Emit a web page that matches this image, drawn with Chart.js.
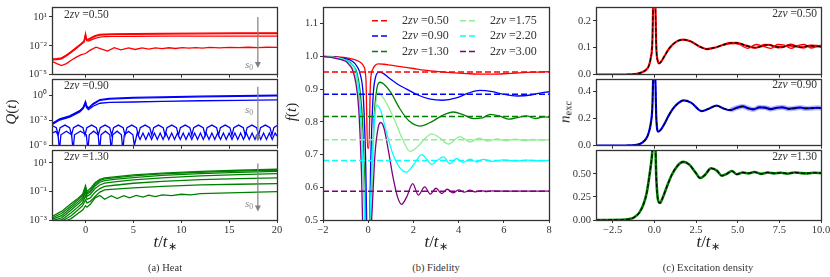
<!DOCTYPE html>
<html>
<head>
<meta charset="utf-8">
<script src="https://cdn.jsdelivr.net/npm/chart.js@4.4.1/dist/chart.umd.min.js"></script>
<style>
  html, body { margin:0; padding:0; background:#fff; }
  body { position:relative; width:830px; height:277px; overflow:hidden;
         font-family:"Liberation Serif","Times New Roman",serif; color:#222; }
  canvas { position:absolute; }
  .txt { position:absolute; white-space:nowrap; }
  .note { font-size:11.5px; line-height:14px; color:#333; }
  .s0 { font-size:11px; line-height:13px; color:#888; }
  .s0 sub, .ylab sub { font-size:70%; vertical-align:-2px; line-height:0; }
  .xlab sub { font-size:65%; vertical-align:-3px; line-height:0; }
  .ylab { font-size:15px; transform:translate(-50%,-50%) rotate(-90deg); }
  .xlab { font-size:17px; transform:translate(-50%,-50%); }
  .cap { font-size:10.5px; transform:translate(-50%,-50%); color:#333; }
</style>
</head>
<body>
<canvas id="heat1"></canvas>
<canvas id="heat2"></canvas>
<canvas id="heat3"></canvas>
<canvas id="fid"></canvas>
<canvas id="exc1"></canvas>
<canvas id="exc2"></canvas>
<canvas id="exc3"></canvas>

<div class="txt note" style="left:64px;top:7px">2<i>zν</i> =0.50</div>
<div class="txt note" style="left:64px;top:78px">2<i>zν</i> =0.90</div>
<div class="txt note" style="left:64px;top:149px">2<i>zν</i> =1.30</div>
<div class="txt note" style="right:13px;top:6px">2<i>zν</i> =0.50</div>
<div class="txt note" style="right:13px;top:77px">2<i>zν</i> =0.90</div>
<div class="txt note" style="right:13px;top:149px">2<i>zν</i> =1.30</div>
<div class="txt s0" style="left:245px;top:58px"><i>s</i><sub>0</sub></div>
<div class="txt s0" style="left:245px;top:103px"><i>s</i><sub>0</sub></div>
<div class="txt s0" style="left:245px;top:197px"><i>s</i><sub>0</sub></div>

<div class="txt ylab" style="left:11px;top:112px"><i>Q</i>(<i>t</i>)</div>
<div class="txt ylab" style="left:291px;top:112px"><i>f</i>(<i>t</i>)</div>
<div class="txt ylab" style="left:565px;top:112px"><i>n</i><sub>exc</sub></div>
<div class="txt xlab" style="left:165px;top:242px"><i>t</i>/<i>t</i><sub>∗</sub></div>
<div class="txt xlab" style="left:436px;top:242px"><i>t</i>/<i>t</i><sub>∗</sub></div>
<div class="txt xlab" style="left:708px;top:242px"><i>t</i>/<i>t</i><sub>∗</sub></div>
<div class="txt cap" style="left:165px;top:267px">(a) Heat</div>
<div class="txt cap" style="left:436px;top:267px">(b) Fidelity</div>
<div class="txt cap" style="left:708px;top:267px">(c) Excitation density</div>

<script>
// ---------- (a) heat, values are log10 Q ----------
const heatT1 = [-3.5,-3,-2.5,-2,-1.5,-1,-0.5,-0.15,0,0.1,0.3,0.6,1,1.5,2,3,5,8,12,16,20];
const heatRedA = [-3.35,-3.33,-3.25,-2.95,-2.6,-2.2,-1.8,-1.5,-0.75,-1.3,-1.3,-1.15,-0.95,-0.82,-0.78,-0.75,-0.73,-0.71,-0.69,-0.67,-0.65];
const heatRedB = [-3.4,-3.38,-3.3,-3.0,-2.65,-2.25,-1.85,-1.55,-0.85,-1.35,-1.38,-1.22,-1.02,-0.9,-0.85,-0.82,-0.8,-0.78,-0.76,-0.74,-0.72];
const heatRedC = [-3.45,-3.42,-3.35,-3.05,-2.7,-2.3,-1.9,-1.62,-1.0,-1.45,-1.5,-1.38,-1.22,-1.1,-1.05,-1.02,-1.01,-1.0,-1.0,-0.99,-0.99];
const heatRedLowT = [-3.5,-3,-2.5,-2,-1.5,-1,-0.5,0,0.5,1.1,1.7,2.3,3.0,3.7,4.5,5.2,5.9,6.6,7.3,8.0,8.7,9.4,10.1,10.8,11.5,12.2,13,14,15,16,17,18,19,20];
const heatRedLow = [-3.6,-3.85,-4.05,-3.85,-3.5,-3.2,-2.95,-2.8,-2.45,-2.15,-2.35,-2.55,-2.2,-2.42,-2.22,-2.38,-2.22,-2.34,-2.21,-2.3,-2.2,-2.28,-2.19,-2.25,-2.18,-2.23,-2.17,-2.21,-2.16,-2.19,-2.15,-2.18,-2.15,-2.16];

const heatT2 = [-3.5,-2.7,-1.65,-0.6,-0.25,0,0.1,0.3,0.8,1.5,2.5,5,8,12,16,20];
const heatBlueA = [-3.36,-2.8,-2.45,-1.83,-1.46,-0.73,-1.2,-1.5,-0.99,-0.51,-0.37,-0.26,-0.18,-0.1,-0.04,0.0];
const heatBlueB = [-3.42,-2.86,-2.5,-1.9,-1.52,-0.85,-1.3,-1.58,-1.08,-0.6,-0.46,-0.35,-0.27,-0.19,-0.13,-0.08];
const heatBlueC = [-3.5,-2.95,-2.6,-2.0,-1.6,-1.0,-1.45,-1.7,-1.3,-0.95,-0.85,-0.8,-0.72,-0.65,-0.6,-0.55];
const heatBlueOscT1 = [-3.5,-3.05,
  -2.85,-2.65,-2.15,-1.66, -1.46,-1.26,-0.76,-0.27, -0.06,0.14,0.64,1.13, 1.34,1.54,2.04,2.53,
  2.73,2.93,3.43,3.93, 4.13,4.33,4.83,5.32, 5.52,5.72,6.22,6.71, 6.92,7.12,7.62,8.11,
  8.31,8.51,9.01,9.5, 9.71,9.91,10.41,10.9, 11.1,11.3,11.8,12.29, 12.5,12.7,13.2,13.69,
  13.89,14.09,14.59,15.08, 15.29,15.49,15.99,16.48, 16.68,16.88,17.38,17.87, 18.08,18.28,18.78,19.27,
  19.47,19.67,20];
const heatBlueOsc1 = [-3.6,-3.85,
  -4.75,-3.85,-3.55,-3.85, -4.75,-3.85,-3.55,-3.85, -4.75,-3.85,-3.55,-3.85, -4.75,-3.85,-3.55,-3.85,
  -4.75,-3.85,-3.55,-3.85, -4.75,-3.85,-3.55,-3.85, -4.75,-3.85,-3.55,-3.85, -4.75,-3.85,-3.55,-3.85,
  -4.75,-3.85,-3.55,-3.85, -4.75,-3.85,-3.55,-3.85, -4.75,-3.85,-3.55,-3.85, -4.75,-3.85,-3.55,-3.85,
  -4.75,-3.85,-3.55,-3.85, -4.75,-3.85,-3.55,-3.85, -4.75,-3.85,-3.55,-3.85, -4.75,-3.85,-3.55,-3.85,
  -4.75,-3.85,-3.6];
const heatBlueOscT2 = [-3.5,-3.1,-2.87,
  -2.72,-2.57,-2.0,-1.45, -1.3,-1.15,-0.53,0.09, 0.24,0.39,0.85,1.32,
  1.47,1.62,2.08,2.54, 2.69,2.84,3.3,3.75, 3.9,4.05,4.5,4.95, 5.1,
  5.4,5.7,6.0,6.3,6.6,6.9,7.2,7.5,7.8,8.1, 8.4,8.7,9.0,9.3,9.6,9.9,10.2,10.5,10.8,11.1,
  11.4,11.7,12.0,12.3,12.6,12.9,13.2,13.5,13.8,14.1, 14.4,14.7,15.0,15.3,15.6,15.9,16.2,16.5,16.8,17.1,
  17.4,17.7,18.0,18.3,18.6,18.9,19.2,19.5,19.8,20];
const heatBlueOsc2 = [-4.5,-4.3,-4.7,
  -6.6,-4.7,-4.27,-4.7, -6.6,-4.7,-4.27,-4.7, -6.6,-4.7,-4.27,-4.7,
  -6.6,-4.7,-4.27,-4.7, -6.6,-4.7,-4.27,-4.7, -6.6,-4.7,-4.3,-4.7, -6.0,
  -4.5,-5.25,-4.5,-5.25,-4.5,-5.25,-4.5,-5.25,-4.5,-5.25, -4.5,-5.25,-4.5,-5.25,-4.5,-5.25,-4.5,-5.25,-4.5,-5.25,
  -4.5,-5.25,-4.5,-5.25,-4.5,-5.25,-4.5,-5.25,-4.5,-5.25, -4.5,-5.25,-4.5,-5.25,-4.5,-5.25,-4.5,-5.25,-4.5,-5.25,
  -4.5,-5.25,-4.5,-5.25,-4.5,-5.25,-4.5,-5.25,-4.5,-4.85];

const heatT3 = [-3.5,-2.5,-1.5,-0.8,-0.3,0,0.15,0.5,1,1.5,2,3,5,8,12,16,20];
const heatGreen1 = [-2.75,-2.4,-1.85,-1.5,-1.2,-0.6,-1.0,-0.8,-0.4,-0.15,-0.05,0.02,0.15,0.28,0.4,0.48,0.55];
const heatGreen2 = [-2.85,-2.55,-2.0,-1.6,-1.3,-0.75,-1.1,-0.95,-0.5,-0.25,-0.12,-0.05,0.08,0.22,0.34,0.42,0.48];
const heatGreen3 = [-2.95,-2.7,-2.15,-1.75,-1.45,-0.9,-1.2,-1.05,-0.62,-0.36,-0.24,-0.16,-0.03,0.12,0.25,0.33,0.40];
const heatGreen4 = [-3.05,-2.85,-2.3,-1.9,-1.6,-1.05,-1.35,-1.2,-0.8,-0.55,-0.42,-0.34,-0.2,-0.05,0.08,0.17,0.25];
const heatGreen5 = [-3.1,-3.0,-2.5,-2.1,-1.8,-1.3,-1.55,-1.45,-1.05,-0.8,-0.65,-0.57,-0.43,-0.3,-0.18,-0.1,-0.05];
const heatGreen6 = [-3.2,-3.1,-2.7,-2.3,-2.0,-1.6,-1.8,-1.7,-1.35,-1.05,-0.9,-0.84,-0.75,-0.65,-0.55,-0.5,-0.46];
const heatGreenLowT = [-3.5,-2.5,-1.5,-0.8,-0.3,0,0.15,0.5,1.0,1.5,2.0,2.7,3.3,4.0,4.6,5.3,6.0,6.6,7.3,8.0,9,10,11,12,14,16,18,20];
const heatGreenLow = [-3.3,-3.2,-2.9,-2.55,-2.3,-2.0,-2.1,-1.9,-1.45,-1.28,-1.55,-1.3,-1.5,-1.3,-1.45,-1.28,-1.4,-1.26,-1.36,-1.24,-1.3,-1.2,-1.24,-1.15,-1.12,-1.08,-1.05,-1.02];

// s0 arrows (log10 ends)
const arrowX = 18;
const arrowTop = [1.0, 1.0, 0.95];
const arrowBottom = [-4.3, -5.5, -2.4];

// ---------- (b) fidelity ----------
const nuLabels = ['0.50','0.90','1.30','1.75','2.20','3.00'];
const fidColors = ['#ff0000','#0000ff','#008000','#90ee90','#00ffff','#800080'];
const fidLevels = [0.952, 0.884, 0.816, 0.745, 0.682, 0.588];
const fidRedT = [-2,-1.5,-1,-0.6,-0.35,-0.2,-0.1,-0.03,0.03,0.1,0.2,0.3,0.45,0.7,1,1.5,2,2.5,3,3.5,4,4.5,5,5.5,6,6.5,7,7.5,8];
const fidRed = [1.0,0.999,0.996,0.99,0.982,0.97,0.93,0.72,0.72,0.92,0.96,0.972,0.977,0.976,0.973,0.968,0.963,0.958,0.954,0.951,0.949,0.947,0.946,0.946,0.947,0.949,0.951,0.952,0.953];
const fidBlueT = [-2,-1.5,-1,-0.7,-0.5,-0.35,-0.22,-0.12,0,0.12,0.22,0.32,0.48,0.65,0.9,1.3,1.7,2.2,2.7,3.3,3.9,4.4,4.95,5.5,6,6.6,7.2,7.6,8];
const fidBlue = [1.0,0.998,0.993,0.985,0.97,0.945,0.88,0.7,0.3,0.7,0.88,0.935,0.952,0.949,0.935,0.915,0.9,0.882,0.87,0.866,0.873,0.887,0.896,0.892,0.884,0.879,0.882,0.888,0.892];
const fidGreenT = [-2,-1.5,-1,-0.7,-0.5,-0.37,-0.25,-0.15,0,0.15,0.27,0.38,0.52,0.7,1.0,1.4,1.8,2.29,2.8,3.3,3.77,4.2,4.65,5.05,5.4,5.8,6.2,6.6,7.0,7.4,7.8,8];
const fidGreen = [1.0,0.997,0.99,0.975,0.95,0.9,0.8,0.6,0.25,0.6,0.82,0.9,0.921,0.915,0.89,0.84,0.803,0.787,0.8,0.82,0.83,0.822,0.81,0.812,0.823,0.818,0.808,0.813,0.818,0.81,0.815,0.814];
const fidLightT = [-2,-1.5,-1,-0.75,-0.55,-0.42,-0.3,-0.18,0,0.15,0.28,0.45,0.65,0.9,1.2,1.5,1.85,2.2,2.5,2.81,3.15,3.55,4.06,4.5,4.9,5.3,5.7,6.1,6.5,6.9,7.3,7.7,8];
const fidLight = [1.0,0.997,0.988,0.97,0.94,0.88,0.78,0.6,0.2,0.55,0.8,0.89,0.875,0.845,0.8,0.75,0.71,0.725,0.748,0.763,0.752,0.732,0.755,0.738,0.75,0.741,0.748,0.742,0.747,0.743,0.746,0.744,0.745];
const fidCyanT = [-2,-1.5,-1,-0.8,-0.6,-0.45,-0.33,-0.2,-0.05,0.1,0.25,0.38,0.55,0.8,1.1,1.4,1.7,2.0,2.37,2.6,2.81,3.05,3.33,3.62,3.9,4.2,4.5,4.8,5.1,5.5,6,6.5,7,7.5,8];
const fidCyan = [1.0,0.996,0.988,0.98,0.965,0.92,0.82,0.6,0.2,0.55,0.78,0.851,0.835,0.77,0.7,0.66,0.646,0.668,0.70,0.685,0.67,0.682,0.693,0.672,0.688,0.676,0.686,0.678,0.685,0.679,0.684,0.68,0.683,0.681,0.682];
const fidPurpleT = [-2,-1.5,-1,-0.85,-0.7,-0.55,-0.42,-0.3,-0.15,0.15,0.3,0.45,0.56,0.7,0.9,1.1,1.3,1.48,1.7,1.97,2.22,2.5,2.75,3.0,3.25,3.5,3.75,4.0,4.25,4.5,4.75,5.0,5.25,5.5,6,7,8];
const fidPurple = [1.0,0.995,0.985,0.975,0.96,0.92,0.84,0.65,0.25,0.5,0.7,0.785,0.798,0.78,0.71,0.63,0.57,0.548,0.57,0.611,0.576,0.601,0.579,0.597,0.581,0.594,0.583,0.592,0.585,0.591,0.586,0.59,0.587,0.589,0.588,0.588,0.588];

// ---------- (c) excitation density ----------
const excRedT = [-3.5,-2,-1.5,-1,-0.7,-0.5,-0.35,-0.22,-0.12,-0.04,0.03,0.12,0.2,0.28,0.4,0.6,0.9,1.3,1.74,2.2,2.7,3.14,3.6,4.1,4.5,4.95,5.5,6.05,6.45,6.85,7.25,7.65,8.05,8.45,8.85,9.25,9.65,10];
const excRed = [0,0,0.001,0.004,0.01,0.018,0.03,0.06,0.12,0.32,0.32,0.1,0.052,0.042,0.048,0.068,0.098,0.122,0.13,0.123,0.105,0.095,0.1,0.11,0.117,0.118,0.108,0.1,0.106,0.111,0.104,0.102,0.109,0.106,0.101,0.107,0.106,0.104];
const excRedTailT = [4.1,4.6,5.1,5.6,6.1,6.6,7.0,7.4,7.8,8.2,8.6,9.0,9.4,9.8,10];
const excRedTail2 = [0.11,0.12,0.112,0.098,0.112,0.104,0.098,0.112,0.11,0.098,0.108,0.112,0.099,0.106,0.11];
const excRedTail3 = [0.11,0.115,0.115,0.105,0.1,0.112,0.11,0.1,0.104,0.113,0.104,0.1,0.11,0.109,0.101];
const excBlueT = [-3.5,-2,-1.5,-1,-0.7,-0.5,-0.35,-0.22,-0.12,-0.04,0.03,0.12,0.24,0.4,0.6,0.85,1.1,1.4,1.74,2.2,2.84,3.3,3.74,4.15,4.55,4.95,5.3,5.65,5.95,6.3,6.65,7,7.35,7.7,8.05,8.4,8.75,9.1,9.45,9.8,10];
const excBlue = [0,0,0.002,0.008,0.025,0.05,0.09,0.16,0.28,0.6,0.6,0.2,0.103,0.12,0.16,0.22,0.27,0.31,0.335,0.318,0.255,0.275,0.295,0.275,0.262,0.28,0.29,0.275,0.268,0.283,0.281,0.27,0.28,0.283,0.272,0.276,0.282,0.275,0.277,0.28,0.277];
const excBlueHaloFrom = 4.5;   // light halo only in the late-time tail
const excGreenT = [-3.5,-2,-1.5,-1.2,-0.9,-0.65,-0.45,-0.28,-0.14,-0.04,0.03,0.12,0.22,0.34,0.5,0.75,1.05,1.4,1.74,2.1,2.45,2.75,3.05,3.4,3.75,4.05,4.35,4.65,4.95,5.3,5.65,6,6.4,6.8,7.2,7.6,8,8.4,8.8,9.2,9.6,10];
const excGreen = [0,0.002,0.01,0.03,0.08,0.17,0.3,0.5,0.7,0.95,0.95,0.45,0.22,0.185,0.24,0.36,0.49,0.59,0.63,0.6,0.52,0.455,0.49,0.56,0.535,0.48,0.5,0.53,0.495,0.515,0.505,0.52,0.5,0.515,0.505,0.512,0.502,0.515,0.508,0.505,0.512,0.508];

// ---------- helpers ----------
const FONT = {family:'"Liberation Serif","Times New Roman",serif', size:10.5};
const INK = '#333';
const SUP = {'-':'⁻','0':'⁰','1':'¹','2':'²','3':'³','4':'⁴','5':'⁵','6':'⁶'};
const pow10Label = v => '10' + String(Math.round(Math.log10(v))).split('').map(c => SUP[c]).join('');
const minus = s => String(s).replace('-', '−');

const pts = (ts, vs) => ts.map((t, i) => ({x: t, y: vs[i]}));
const logPts = (ts, vs) => ts.map((t, i) => ({x: t, y: Math.pow(10, vs[i])}));

function line(data, color, width, extra) {
  return Object.assign({data, showLine:true, borderColor:color, backgroundColor:color,
    borderWidth:width, pointRadius:0, tension:0, fill:false}, extra || {});
}

const framePlugin = {
  id:'frame',
  afterDraw(chart) {
    const {ctx, chartArea:a} = chart;
    ctx.save();
    ctx.strokeStyle = INK; ctx.lineWidth = 1.3;
    ctx.strokeRect(Math.round(a.left)+0.5, Math.round(a.top)+0.5, Math.round(a.right-a.left), Math.round(a.bottom-a.top));
    ctx.restore();
  }
};

function arrowPlugin(i) {
  return {
    id:'arrow' + i,
    afterDatasetsDraw(chart) {
      const {ctx, scales:{x, y}} = chart;
      const px = x.getPixelForValue(arrowX);
      const y1 = y.getPixelForValue(Math.pow(10, arrowTop[i]));
      const y2 = y.getPixelForValue(Math.pow(10, arrowBottom[i]));
      ctx.save();
      ctx.strokeStyle = '#808080'; ctx.fillStyle = '#808080'; ctx.lineWidth = 1.2;
      ctx.beginPath(); ctx.moveTo(px, y1); ctx.lineTo(px, y2 - 5); ctx.stroke();
      ctx.beginPath(); ctx.moveTo(px - 3, y2 - 6); ctx.lineTo(px + 3, y2 - 6); ctx.lineTo(px, y2); ctx.closePath(); ctx.fill();
      ctx.restore();
    }
  };
}

function drawNu(ctx, x, y, val) {
  const parts = [['', '2'], ['italic ', 'zν'], ['', ' =' + val]];
  ctx.textBaseline = 'middle'; ctx.textAlign = 'left'; ctx.fillStyle = INK;
  parts.forEach(([style, s]) => {
    ctx.font = style + '12px "Liberation Serif"';
    ctx.fillText(s, x, y);
    x += ctx.measureText(s).width;
  });
}

const legendPlugin = {
  id:'fidLegend',
  afterDraw(chart) {
    const {ctx, chartArea:a} = chart;
    ctx.save();
    nuLabels.forEach((lab, i) => {
      const col = Math.floor(i / 3), row = i % 3;
      const x0 = a.left + 49 + col * 88, y0 = a.top + 13.5 + row * 15.3;
      ctx.strokeStyle = fidColors[i]; ctx.lineWidth = 1.5; ctx.setLineDash([6, 3]);
      ctx.beginPath(); ctx.moveTo(x0, y0); ctx.lineTo(x0 + 17, y0); ctx.stroke();
      ctx.setLineDash([]);
      drawNu(ctx, x0 + 30, y0, lab);
    });
    ctx.restore();
  }
};

function makeChart(id, box, cfg) {
  const c = document.getElementById(id);
  c.width = box.lm + box.w + 12;
  c.height = 6 + box.h + box.pb;
  c.style.left = (box.x - box.lm) + 'px';
  c.style.top = (box.y - 6) + 'px';
  // Chart.js paints dataset 0 last, so reverse to keep "later = on top"
  const datasets = cfg.datasets.slice().reverse();
  return new Chart(c, {
    type:'scatter',
    data:{datasets},
    options:{
      responsive:false, animation:false, events:[],
      layout:{padding:{top:6, right:12, bottom:0, left:0}},
      plugins:{legend:{display:false}, tooltip:{enabled:false}},
      scales:{
        x:{type:'linear', min:cfg.xmin, max:cfg.xmax,
           afterBuildTicks:s => { s.ticks = cfg.xticks.map(v => ({value:v})); },
           afterFit:s => { s.height = box.pb; },
           ticks:{display:!!cfg.showX, font:FONT, color:INK, padding:1, maxRotation:0, autoSkip:false, callback:cfg.xfmt},
           grid:{drawOnChartArea:false, tickLength:3, color:INK},
           border:{display:false}},
        y:{type:cfg.ylog ? 'logarithmic' : 'linear', min:cfg.ymin, max:cfg.ymax,
           afterBuildTicks:s => { s.ticks = cfg.yticks.map(v => ({value:v})); },
           afterFit:s => { s.width = box.lm; },
           ticks:{font:FONT, color:INK, padding:2, autoSkip:false, callback:cfg.yfmt},
           grid:{drawOnChartArea:false, tickLength:3, color:INK},
           border:{display:false}}
      }
    },
    plugins:[framePlugin].concat(cfg.plugins || [])
  });
}

// ---------- (a) ----------
const heatX = {xmin:-3.5, xmax:20, xticks:[0,5,10,15,20], xfmt:v => String(v), ylog:true, yfmt:pow10Label};
makeChart('heat1', {x:52, y:5, w:225, h:72, lm:40, pb:6}, Object.assign({}, heatX, {
  ymin:1e-5, ymax:1e2, yticks:[1e-5,1e-2,1e1], plugins:[arrowPlugin(0)],
  datasets:[
    line(logPts(heatT1, heatRedA), '#ff0000', 1.3),
    line(logPts(heatT1, heatRedB), '#ff0000', 1.3),
    line(logPts(heatT1, heatRedC), '#ff0000', 1.3),
    line(logPts(heatRedLowT, heatRedLow), '#ff0000', 1.3)
  ]}));
makeChart('heat2', {x:52, y:77, w:225, h:71, lm:40, pb:6}, Object.assign({}, heatX, {
  ymin:1e-6, ymax:Math.pow(10, 1.9), yticks:[1e-6,1e-3,1e0], plugins:[arrowPlugin(1)],
  datasets:[
    line(logPts(heatT2, heatBlueA), '#0000ff', 1.3),
    line(logPts(heatT2, heatBlueB), '#0000ff', 1.3),
    line(logPts(heatT2, heatBlueC), '#0000ff', 1.3),
    line(logPts(heatBlueOscT1, heatBlueOsc1), '#0000ff', 1.3),
    line(logPts(heatBlueOscT2, heatBlueOsc2), '#0000ff', 1.3)
  ]}));
makeChart('heat3', {x:52, y:148, w:225, h:72, lm:40, pb:20}, Object.assign({}, heatX, {
  showX:true, ymin:1e-3, ymax:Math.pow(10, 1.875), yticks:[1e-3,1e-1,1e1], plugins:[arrowPlugin(2)],
  datasets:[heatGreen1, heatGreen2, heatGreen3, heatGreen4, heatGreen5, heatGreen6]
    .map(v => line(logPts(heatT3, v), '#008000', 1.3))
    .concat([line(logPts(heatGreenLowT, heatGreenLow), '#008000', 1.3)])
}));

// ---------- (b) ----------
const fidSeries = [[fidRedT, fidRed], [fidBlueT, fidBlue], [fidGreenT, fidGreen],
                   [fidLightT, fidLight], [fidCyanT, fidCyan], [fidPurpleT, fidPurple]];
const fidDatasets = [];
fidSeries.forEach(([t, v], i) => {
  fidDatasets.push(line(pts(t, v), fidColors[i], 1.3, {cubicInterpolationMode:'monotone'}));
});
fidLevels.forEach((lv, i) => {
  fidDatasets.push(line(pts([-2, 8], [lv, lv]), fidColors[i], 1.5, {borderDash:[6, 3]}));
});
makeChart('fid', {x:323, y:5, w:226, h:215, lm:32, pb:20}, {
  xmin:-2, xmax:8, xticks:[-2,0,2,4,6,8], showX:true, xfmt:v => minus(v),
  ymin:0.5, ymax:1.15, yticks:[0.5,0.6,0.7,0.8,0.9,1.0,1.1], yfmt:v => v.toFixed(1),
  plugins:[legendPlugin], datasets:fidDatasets
});

// ---------- (c) ----------
const excX = {xmin:-3.5, xmax:10, xticks:[-2.5,0,2.5,5,7.5,10], xfmt:v => minus(v.toFixed(1))};
const smooth = {cubicInterpolationMode:'monotone'};
const model = (t, v) => line(pts(t, v), '#000', 1.2, {cubicInterpolationMode:'monotone', borderDash:[4, 2]});
const blueHalo = pts(excBlueT, excBlue).filter(p => p.x >= excBlueHaloFrom);
makeChart('exc1', {x:596, y:5, w:225, h:72, lm:30, pb:6}, Object.assign({}, excX, {
  ymin:0, ymax:0.25, yticks:[0,0.1,0.2], yfmt:v => v.toFixed(1),
  datasets:[
    line(pts(excRedTailT, excRedTail2), '#ff0000', 1.3, smooth),
    line(pts(excRedTailT, excRedTail3), '#ff0000', 1.3, smooth),
    line(pts(excRedT, excRed), '#ff0000', 2.2, smooth),
    model(excRedT, excRed)
  ]}));
makeChart('exc2', {x:596, y:77, w:225, h:71, lm:30, pb:6}, Object.assign({}, excX, {
  ymin:0, ymax:0.49, yticks:[0,0.2,0.4], yfmt:v => v.toFixed(1),
  datasets:[
    line(blueHalo, 'rgba(100,100,255,0.45)', 5, smooth),
    line(pts(excBlueT, excBlue), '#0000ff', 2.2, smooth),
    model(excBlueT, excBlue)
  ]}));
makeChart('exc3', {x:596, y:148, w:225, h:72, lm:30, pb:20}, Object.assign({}, excX, {
  showX:true, ymin:0, ymax:0.755, yticks:[0,0.25,0.5], yfmt:v => v.toFixed(2),
  datasets:[
    line(pts(excGreenT, excGreen), '#008000', 2.6, smooth),
    model(excGreenT, excGreen)
  ]}));
</script>
</body>
</html>
